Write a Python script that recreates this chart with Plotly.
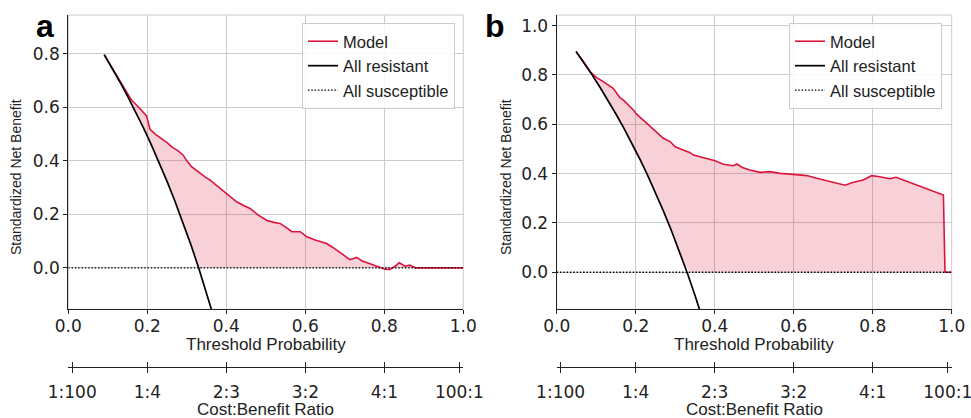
import numpy as np
import plotly.graph_objects as go

# ---------------- data ----------------
# Panel a
model_a_x = [0.091, 0.105, 0.118, 0.130, 0.144, 0.160, 0.177, 0.190, 0.198, 0.203, 0.207, 0.220,
             0.236, 0.250, 0.262, 0.278, 0.291, 0.300, 0.312, 0.333, 0.346, 0.359, 0.384, 0.401,
             0.426, 0.445, 0.460, 0.481, 0.502, 0.520, 0.536, 0.552, 0.566, 0.587, 0.604, 0.625,
             0.640, 0.654, 0.668, 0.680, 0.696, 0.713, 0.722, 0.730, 0.743, 0.760, 0.781, 0.802,
             0.814, 0.827, 0.838, 0.852, 0.865, 0.878, 1.000]
model_a_y = [0.796, 0.762, 0.727, 0.697, 0.664, 0.627, 0.602, 0.583, 0.568, 0.540, 0.518, 0.500,
             0.484, 0.468, 0.452, 0.437, 0.421, 0.400, 0.378, 0.353, 0.340, 0.328, 0.297, 0.276,
             0.247, 0.232, 0.222, 0.197, 0.178, 0.170, 0.166, 0.150, 0.135, 0.135, 0.116, 0.104,
             0.096, 0.091, 0.078, 0.066, 0.047, 0.031, 0.035, 0.039, 0.026, 0.016, 0.006, -0.005,
             -0.006, 0.006, 0.019, 0.006, 0.010, 0.000, 0.000]
resist_a_x = [0.091, 0.11, 0.13, 0.15, 0.17, 0.19, 0.21, 0.23, 0.25, 0.27, 0.29, 0.31, 0.33, 0.35, 0.37]
resist_a_y = [0.7967, 0.7491, 0.6966, 0.6417, 0.5842, 0.5238, 0.4603, 0.3935, 0.3232, 0.2491,
              0.1707, 0.0878, 0.0000, -0.0932, -0.1924]

# Panel b
model_b_x = [0.049, 0.070, 0.084, 0.100, 0.118, 0.143, 0.160, 0.169, 0.194, 0.203, 0.219, 0.245,
             0.270, 0.287, 0.300, 0.320, 0.338, 0.346, 0.371, 0.401, 0.422, 0.447, 0.456, 0.470,
             0.489, 0.515, 0.540, 0.565, 0.599, 0.633, 0.658, 0.684, 0.700, 0.730, 0.747, 0.760,
             0.776, 0.793, 0.797, 0.814, 0.844, 0.859, 0.979, 0.983, 1.000]
model_b_y = [0.894, 0.850, 0.815, 0.790, 0.773, 0.746, 0.708, 0.698, 0.658, 0.640, 0.617, 0.580,
             0.543, 0.530, 0.509, 0.496, 0.485, 0.475, 0.464, 0.452, 0.438, 0.432, 0.439, 0.425,
             0.415, 0.405, 0.408, 0.401, 0.397, 0.392, 0.381, 0.371, 0.365, 0.353, 0.363, 0.368,
             0.374, 0.388, 0.392, 0.388, 0.379, 0.385, 0.313, 0.000, 0.000]
resist_b_x = [0.049, 0.07, 0.09, 0.11, 0.13, 0.15, 0.17, 0.19, 0.21, 0.23, 0.25, 0.27, 0.29, 0.31,
              0.33, 0.35, 0.37]
resist_b_y = [0.8954, 0.8472, 0.7992, 0.7491, 0.6966, 0.6417, 0.5842, 0.5238, 0.4603, 0.3935,
              0.3232, 0.2491, 0.1707, 0.0878, 0.0000, -0.0932, -0.1924]

suscept_x = [0.0, 1.0]
suscept_y = [0.0, 0.0]

# Cost:Benefit ratio ticks
cb_cost = [1, 1, 2, 3, 4, 100]
cb_benefit = [100, 4, 3, 2, 1, 1]
cb_labels = [f"{c}:{b}" for c, b in zip(cb_cost, cb_benefit)]
cb_pos = [c / (c + b) for c, b in zip(cb_cost, cb_benefit)]

x_ticks = [0.0, 0.2, 0.4, 0.6, 0.8, 1.0]
y_ticks_a = [0.0, 0.2, 0.4, 0.6, 0.8]
y_ticks_b = [0.0, 0.2, 0.4, 0.6, 0.8, 1.0]

# ---------------- style ----------------
W, H = 971, 418
RED = "#DC143C"
FILL = "rgba(220,20,60,0.20)"
DARK = "#222222"
GRID = "#cccccc"
TICKFONT = dict(family="DejaVu Sans", size=17, color=DARK)
TXT = "Liberation Sans"
DOT = "1.5px,1.8px"


def px(x):
    return x / W


def py(y):
    return (H - y) / H


fig = go.Figure()


def add_panel(mx, my, rx, ry, xa, ya, legend):
    mx = np.array(mx)
    my = np.array(my)
    lower = np.maximum(np.interp(mx, rx, ry), np.interp(mx, suscept_x, suscept_y))
    fig.add_trace(go.Scatter(x=mx, y=lower, mode="lines", line=dict(width=0, color="rgba(0,0,0,0)"),
                             showlegend=False, hoverinfo="skip", xaxis=xa, yaxis=ya))
    fig.add_trace(go.Scatter(x=mx, y=my, mode="lines", line=dict(width=0, color="rgba(0,0,0,0)"),
                             fill="tonexty", fillcolor=FILL, showlegend=False, hoverinfo="skip",
                             xaxis=xa, yaxis=ya))
    fig.add_trace(go.Scatter(x=mx, y=my, mode="lines", name="Model", line=dict(color=RED, width=1.6),
                             xaxis=xa, yaxis=ya, legend=legend, legendgroup="m" + legend))
    fig.add_trace(go.Scatter(x=rx, y=ry, mode="lines", name="All resistant",
                             line=dict(color="black", width=1.7),
                             xaxis=xa, yaxis=ya, legend=legend, legendgroup="r" + legend))
    fig.add_trace(go.Scatter(x=suscept_x, y=suscept_y, mode="lines", name="All susceptible",
                             line=dict(color="black", width=1.4, dash=DOT),
                             xaxis=xa, yaxis=ya, legend=legend, legendgroup="s" + legend))


add_panel(model_a_x, model_a_y, resist_a_x, resist_a_y, "x", "y", "legend")
add_panel(model_b_x, model_b_y, resist_b_x, resist_b_y, "x2", "y2", "legend2")

# invisible traces so the cost:benefit axes are drawn
for xa, ya in [("x3", "y3"), ("x4", "y3"), ("x5", "y4"), ("x6", "y4")]:
    fig.add_trace(go.Scatter(x=[0.5], y=[0.5], mode="markers", marker=dict(opacity=0),
                             showlegend=False, hoverinfo="skip", xaxis=xa, yaxis=ya))

dom_a = [px(68.3), px(463.3)]
dom_b = [px(556.7), px(951.7)]
ydom = [py(309.3), py(15)]

main_x = dict(range=[0, 1], tickvals=x_ticks, tickformat=".1f", showgrid=True, gridcolor=GRID,
              gridwidth=1, zeroline=False, showline=True, linecolor=DARK, linewidth=1.2,
              ticks="outside", ticklen=4, tickcolor=DARK, tickfont=TICKFONT, automargin=False,
              ticklabelstandoff=-3, ticklabeloverflow="allow")
main_y = dict(tickformat=".1f", showgrid=True, gridcolor=GRID, gridwidth=1, zeroline=False,
              showline=True, linecolor=DARK, linewidth=1.2, ticks="outside", ticklen=4,
              tickcolor=DARK, tickfont=TICKFONT, automargin=False)

cb_out = dict(range=[0, 1], tickvals=cb_pos, ticktext=cb_labels, showgrid=False, zeroline=False,
              showline=True, linecolor=DARK, linewidth=1.2, ticks="outside", ticklen=5,
              tickwidth=1.2, tickcolor=DARK, tickfont=TICKFONT, fixedrange=True, automargin=False,
              ticklabelstandoff=4, ticklabeloverflow="allow")
cb_in = dict(range=[0, 1], tickvals=cb_pos, showticklabels=False, showgrid=False, zeroline=False,
             showline=False, ticks="inside", ticklen=5, tickwidth=1.2, tickcolor=DARK,
             automargin=False)

hidden_y = dict(visible=False, range=[0, 1], fixedrange=True, automargin=False)
cb_ydom = [py(367.3), py(360)]

legend_common = dict(bgcolor="rgba(255,255,255,0.85)", bordercolor=GRID, borderwidth=1,
                     font=dict(family=TXT, size=16.5, color=DARK), xanchor="right", yanchor="top",
                     tracegroupgap=0, itemwidth=30)

fig.update_layout(
    width=W, height=H, margin=dict(l=0, r=0, t=0, b=0, autoexpand=False),
    paper_bgcolor="white", plot_bgcolor="white",
    xaxis=dict(domain=dom_a, anchor="y", **main_x),
    yaxis=dict(domain=ydom, anchor="x", range=[-0.155, 0.945], tickvals=y_ticks_a, **main_y),
    xaxis2=dict(domain=dom_b, anchor="y2", **main_x),
    yaxis2=dict(domain=ydom, anchor="x2", range=[-0.15, 1.043], tickvals=y_ticks_b, **main_y),
    xaxis3=dict(domain=dom_a, anchor="y3", **cb_out),
    xaxis4=dict(overlaying="x3", anchor="y3", **cb_in),
    yaxis3=dict(domain=cb_ydom, anchor="x3", **hidden_y),
    xaxis5=dict(domain=dom_b, anchor="y4", **cb_out),
    xaxis6=dict(overlaying="x5", anchor="y4", **cb_in),
    yaxis4=dict(domain=cb_ydom, anchor="x5", **hidden_y),
    legend=dict(x=px(455), y=py(23), **legend_common),
    legend2=dict(x=px(942), y=py(23), **legend_common),
    showlegend=True,
)

# light frame on top/right
for xr, yr in [("x domain", "y domain"), ("x2 domain", "y2 domain")]:
    fig.add_shape(type="rect", xref=xr, yref=yr, x0=0, x1=1, y0=0, y1=1,
                  line=dict(color=GRID, width=1), layer="below")

ann = []
for cx, lab in [(44.5, "a"), (494.5, "b")]:
    ann.append(dict(text=f"<b>{lab}</b>", x=px(cx), y=py(26), xref="paper", yref="paper",
                    showarrow=False, xanchor="center", yanchor="middle",
                    font=dict(family=TXT, size=32, color="black")))
for cx in [16, 506]:
    ann.append(dict(text="Standardized Net Benefit", x=px(cx), y=py(177), xref="paper",
                    yref="paper", showarrow=False, textangle=-90, xanchor="center",
                    yanchor="middle", font=dict(family=TXT, size=14, color=DARK)))
for cx in [(68.3 + 463.3) / 2, (556.7 + 951.7) / 2]:
    ann.append(dict(text="Threshold Probability", x=px(cx), y=py(344), xref="paper",
                    yref="paper", showarrow=False, xanchor="center", yanchor="middle",
                    font=dict(family=TXT, size=17, color=DARK)))
    ann.append(dict(text="Cost:Benefit Ratio", x=px(cx), y=py(409), xref="paper",
                    yref="paper", showarrow=False, xanchor="center", yanchor="middle",
                    font=dict(family=TXT, size=17, color=DARK)))
fig.update_layout(annotations=ann)

fig.write_html("out.html", config={"displayModeBar": False},
               post_script="document.body.style.margin='0';document.body.style.overflow='hidden';")
